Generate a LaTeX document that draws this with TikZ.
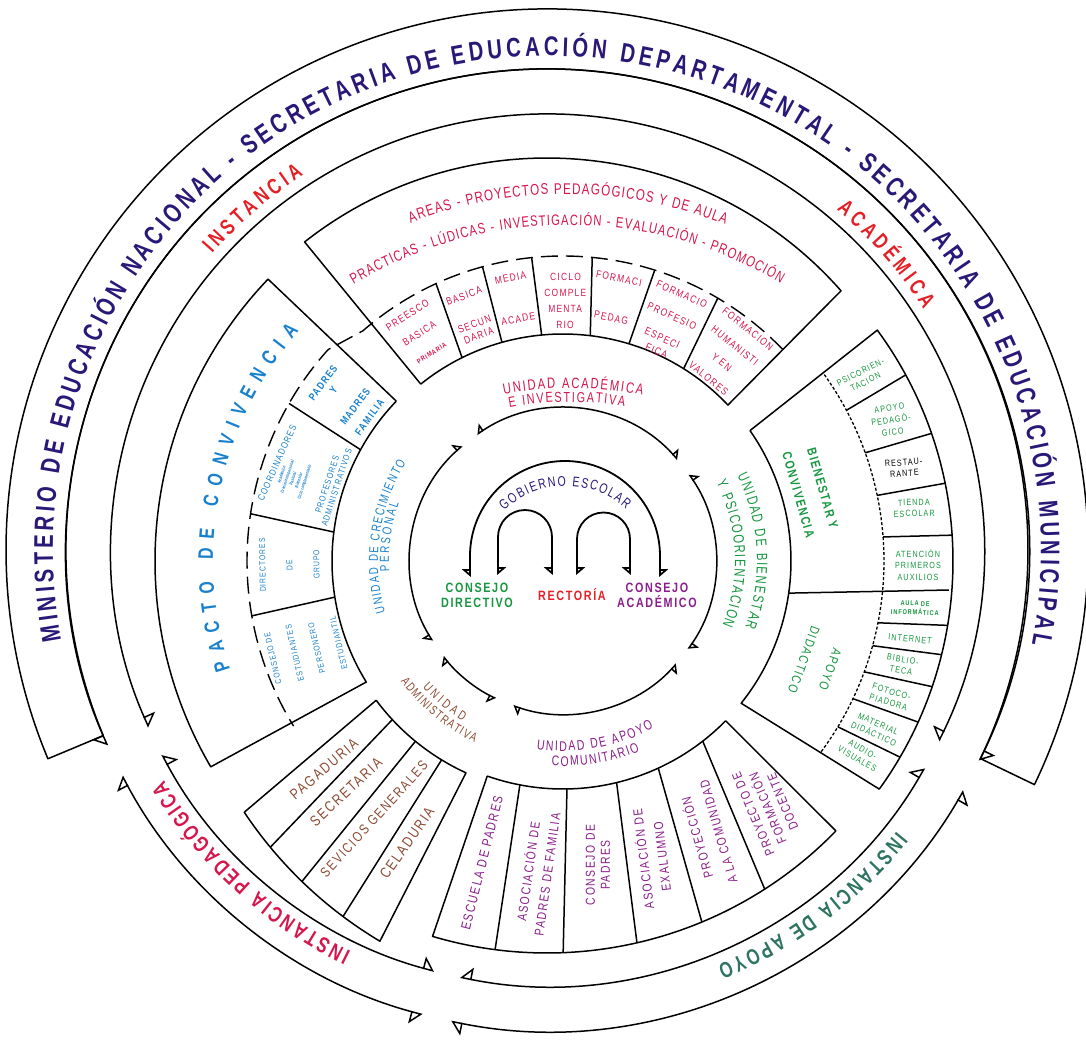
\documentclass[tikz,border=0pt]{standalone}
\usepackage{fontspec}
\setmainfont{Liberation Sans}
\newfontfamily\arcfont[FakeStretch=0.75]{Liberation Sans}
\newfontfamily\boxfont[FakeStretch=0.8,LetterSpace=12]{Liberation Sans}
\usetikzlibrary{calc,arrows.meta,decorations.text}

\definecolor{navy}{RGB}{42,24,120}
\definecolor{redi}{RGB}{228,32,38}
\definecolor{crimson}{RGB}{214,22,76}
\definecolor{bluec}{RGB}{24,128,204}
\definecolor{greenc}{RGB}{22,150,62}
\definecolor{purplec}{RGB}{138,30,138}
\definecolor{brownc}{RGB}{140,74,50}
\definecolor{tealc}{RGB}{46,116,96}

\begin{document}
\begin{tikzpicture}[x=1pt,y=1pt,line join=round]
    \tikzset{
        wall/.style={line width=1.5pt},
        dwall/.style={line width=1.4pt, dash pattern=on 17pt off 8pt},
        dotwall/.style={line width=1.3pt, dash pattern=on 3pt off 2pt},
        arctext/.style={decorate, decoration={text along path, text align={fit to path}, text={#1}}},
        lbl/.style 2 args={align=center, inner sep=0pt, font=\boxfont\fontsize{#1}{#2}\selectfont},
        lblb/.style 2 args={align=center, inner sep=0pt, font=\boxfont\bfseries\fontsize{#1}{#2}\selectfont},
        hbl/.tip={Triangle[open,harpoon,length=11pt,width=24pt]},
        hbr/.tip={Triangle[open,harpoon,swap,length=11pt,width=24pt]},
        sbl/.tip={Triangle[open,harpoon,length=7pt,width=16pt]},
        sbr/.tip={Triangle[open,harpoon,swap,length=7pt,width=16pt]},
    }
    \useasboundingbox (-563,-481) rectangle (523,561);
    \coordinate (C) at (0,0);
    \coordinate (O) at (-16,11);
    \coordinate (S) at (34,-16);

    % outer ring
    \draw[wall] ($(O)+(-25.7:541)$) arc[start angle=-25.7,end angle=202.7,radius=541]
        -- ($(O)+(202.7:481)$) arc[start angle=202.7,end angle=-25.7,radius=481] -- cycle;
    \path[arctext={|\arcfont\bfseries\fontsize{27}{27}\selectfont\color{navy}|MINISTERIO DE EDUCACIÓN NACIONAL - SECRETARIA DE EDUCACIÓN DEPARTAMENTAL - SECRETARIA DE EDUCACIÓN MUNICIPAL}]
        ($(O)+(190.5:494)$) arc[start angle=190.5,end angle=-11,radius=494];

    % instancias
    \foreach \s/\e in {-26/204, 208/255, 258.5/330} {
        \draw[wall,{hbr}-{hbl}] ($(O)+(\s:436)$) arc[start angle=\s,end angle=\e,radius=436];
        \draw[wall,{hbl}-{hbr}] ($(O)+(\s:481)$) arc[start angle=\s,end angle=\e,radius=481];
    }
    \path[arctext={|\arcfont\bfseries\fontsize{22}{22}\selectfont\color{redi}|INSTANCIA}]
        ($(O)+(138.5:447)$) arc[start angle=138.5,end angle=123,radius=447];
    \path[arctext={|\arcfont\bfseries\fontsize{22}{22}\selectfont\color{redi}|ACADÉMICA}]
        ($(O)+(49.6:447)$) arc[start angle=49.6,end angle=32.6,radius=447];
    \path[arctext={|\arcfont\bfseries\fontsize{22}{22}\selectfont\color{crimson}|INSTANCIA PEDAGÓGICA}]
        ($(O)+(244:447)$) arc[start angle=244,end angle=211,radius=447];
    \path[arctext={|\arcfont\bfseries\fontsize{22}{22}\selectfont\color{tealc}|INSTANCIA DE APOYO}]
        ($(O)+(-38.8:449)$) arc[start angle=-38.8,end angle=-67.7,radius=449];

    % unidad academica
    \draw[wall] (128.8:227) -- ($(O)+(128.2:392)$) arc[start angle=128.2,end angle=41.4,radius=392]
        -- (43.4:227) arc[start angle=43.4,end angle=128.8,radius=227];
    \foreach \a/\b in {116.4/114.6,105.6/105.3,95.4/95.9,83.1/84.5,73.1/72.5,57.9/59.5}
        \draw[wall] (\a:227) -- (\b:305);
    \draw[dwall] (44:305) arc[start angle=44,end angle=131,radius=305] -- (138:316)
        arc[start angle=138,end angle=211.5,radius=316];
    \path[arctext={|\arcfont\fontsize{15.5}{15.5}\selectfont\color{crimson}|AREAS - PROYECTOS PEDAGÓGICOS Y DE AULA}]
        ($(3,-63)+(111.2:430)$) arc[start angle=111.2,end angle=68.3,radius=430];
    \path[arctext={|\arcfont\fontsize{15}{15}\selectfont\color{crimson}|PRACTICAS - LÚDICAS - INVESTIGACIÓN - EVALUACIÓN - PROMOCIÓN}]
        ($(5,-80)+(121:416)$) arc[start angle=121,end angle=59.3,radius=416];
    \node[lbl={10.5}{22}, text=crimson, rotate=32.3] (presc) at (122.3:269) {PREESCO\\BASICA\\{\fontsize{7}{7}\selectfont\bfseries PRIMARIA}};
    \node[lbl={10.5}{12}, text=crimson, rotate=20.5] (secun) at (110.5:262) {BASICA\\[18pt]SECUN\\DARIA};
    \node[lbl={10.5}{12}, text=crimson, rotate=10.5] (media) at (100.5:267) {MEDIA\\[30pt]ACADE};
    \node[lbl={10.5}{16}, text=crimson, rotate=-0.5] (ciclo) at (89.5:260) {CICLO\\COMPLE\\MENTA\\RIO};
    \node[lbl={10.5}{12}, text=crimson, rotate=-11.2] (pedag) at (78.8:268) {FORMACI\\[28pt]PEDAG};
    \node[lbl={10.5}{14}, text=crimson, rotate=-24] (profe) at (66:261) {FORMACIO\\[10pt]PROFESIO\\[10pt]ESPECI\\FICA};
    \node[lbl={10.5}{21}, text=crimson, rotate=-38.6] (human) at (51.4:265) {FORMACION\\HUMANISTI\\Y EN\\VALORES};

    % pacto de convivencia
    \draw[wall] (136.2:231) -- (136.3:408) arc[start angle=136.3,end angle=210.3,radius=408]
        -- (211.6:231) arc[start angle=211.6,end angle=136.2,radius=231];
    \foreach \a/\b in {151.2/150.1,172.8/171.4,189/190}
        \draw[wall] (\a:231) -- (\b:316);
    \path[arctext={|\arcfont\bfseries\fontsize{21}{21}\selectfont\color{bluec}|PACTO DE CONVIVENCIA}]
        (198:350) arc[start angle=198,end angle=139,radius=350];
    \node[lblb={10.5}{15}, text=bluec, rotate=53.4] (padres) at (143.4:270) {PADRES\\[-2pt]Y\\[12pt]MADRES\\[3pt]FAMILIA};
    \node[lbl={9.5}{11}, text=bluec, rotate=66] (coord) at (-286,98) {COORDINADORES};
    \node[lbl={4.5}{6}, text=bluec, rotate=72, font=\arcfont\bfseries\fontsize{4.5}{6}\selectfont] (coordx) at (163:282)
        {Académico\\Crecimiento personal\\Pastoral\\Bienestar\\Ciclo complementario};
    \node[lbl={9}{10}, text=bluec, rotate=72] (profa) at (162:243) {PROFESORES\\ADMINISTRATIVOS};
    \node[lbl={8.5}{27}, text=bluec, rotate=90.8] (direc) at (180.8:273.5) {DIRECTORES\\DE\\GRUPO};
    \node[lbl={8.5}{22.5}, text=bluec, rotate=103] (conse) at (199.2:272.5) {CONSEJO DE\\ESTUDIANTES\\PERSONERO\\ESTUDIANTIL};

    % bienestar
    \draw[wall] (34.9:228) -- (36.3:390) arc[start angle=36.3,end angle=-35.8,radius=390]
        -- (-38.6:228) arc[start angle=-38.6,end angle=34.9,radius=228];
    \draw[dotwall] (35.5:321) arc[start angle=35.5,end angle=-36.5,radius=321];
    \foreach \a/\b in {28/28.5,19.7/19.1,11.8/11.5,4.3/3.8,-11.1/-9.5,-15.3/-13.9,-20.2/-18.8,-25.4/-24.4,-31.1/-30.2}
        \draw[wall] (\a:321) -- (\b:390);
    \draw[wall] (-8.1:228) -- (-4.3:387);
    \node[lblb={13}{25}, text=greenc, rotate=-74] (bienc) at (247.5,69.5) {BIENESTAR Y\\CONVIVENCIA};
    \node[lbl={13}{28}, text=greenc, rotate=-110] (apoyd) at (254,-103.5) {APOYO\\DIDACTICO};
    \node[lbl={9}{11}, text=greenc, rotate=27] (psico) at (300,184) {PSICORIEN-\\TACION};
    \node[lbl={9}{12}, text=greenc, rotate=8] (apoyp) at (328,141) {APOYO\\PEDAGÓ-\\GICO};
    \node[lbl={9}{11}, rotate=4] (resta) at (341,93) {RESTAU-\\RANTE};
    \node[lbl={9}{11}, text=greenc, rotate=2] (tiend) at (351,53) {TIENDA\\ESCOLAR};
    \node[lbl={9}{11.5}, text=greenc] (auxil) at (355,-4) {ATENCIÓN\\PRIMEROS\\AUXILIOS};
    \node[lblb={7}{9}, text=greenc, rotate=-2] (aula) at (352,-47) {AULA DE\\INFORMÁTICA};
    \node[lbl={9}{11}, text=greenc, rotate=-6] (inter) at (347,-78) {INTERNET};
    \node[lbl={9}{11}, text=greenc, rotate=-10] (bibli) at (339,-104) {BIBLIO-\\TECA};
    \node[lbl={9}{11}, text=greenc, rotate=-17] (fotoc) at (327,-136) {FOTOCO-\\PIADORA};
    \node[lbl={9}{11}, text=greenc, rotate=-24] (mater) at (313,-168) {MATERIAL\\DIDÁCTICO};
    \node[lbl={9}{11}, text=greenc, rotate=-30] (audio) at (297,-193) {AUDIO-\\VISUALES};

    % apoyo comunitario
    \draw[wall] (250.6:228) -- ($(O)+(253.5:403)$) arc[start angle=253.5,end angle=315.8,radius=403]
        -- (315.5:228) arc[start angle=315.5,end angle=250.6,radius=228];
    \foreach \a/\b in {259.1/262.6,271/272.3,283.6/282.9,294.7/292.6,307.8/302.7}
        \draw[wall] (\a:228) -- ($(O)+(\b:403)$);
    \node[lbl={13.5}{15}, text=purplec, rotate=76] (escue) at (-81,-302) {ESCUELA DE PADRES};
    \node[lbl={13}{19}, text=purplec, rotate=82] (asocp) at (-26,-312) {ASOCIACIÓN DE\\PADRES DE FAMILIA};
    \node[lbl={13}{15}, text=purplec, rotate=90] (consp) at (35,-304) {CONSEJO DE\\PADRES};
    \node[lbl={13}{19}, text=purplec, rotate=97] (asoce) at (89,-297) {ASOCIACIÓN DE\\EXALUMNO};
    \node[lbl={13}{22}, text=purplec, rotate=106] (proyc) at (144,-274) {PROYECCIÓN\\A LA COMUNIDAD};
    \node[lbl={13}{16}, text=purplec, rotate=113] (proyf) at (205,-247) {PROYECTO DE\\FORMACIÓN\\DOCENTE};

    % administrativa
    \draw[wall] (216.7:233) -- ($(S)+(213.7:424)$) arc[start angle=213.7,end angle=239.2,radius=424]
        -- (245.4:233) arc[start angle=245.4,end angle=216.7,radius=233];
    \foreach \a/\b in {222.9/219.6,230.7/225.9,238.6/233.2}
        \draw[wall] (\a:233) -- ($(S)+(\b:424)$);
    \node[lbl={15}{16}, text=brownc, rotate=40.6] (pagad) at (-239,-208) {PAGADURIA};
    \node[lbl={15}{16}, text=brownc, rotate=43] (secre) at (-217,-231) {SECRETARIA};
    \node[lbl={14}{16}, text=brownc, rotate=47.5] (servi) at (-189,-258) {SEVICIOS GENERALES};
    \node[lbl={15}{16}, text=brownc, rotate=55] (celad) at (-156,-282) {CELADURIA};

    % unidades
    \path[arctext={|\arcfont\fontsize{15}{15}\selectfont\color{crimson}|UNIDAD  ACADÉMICA}]
        ($(7,-190)+(100.5:363)$) arc[start angle=100.5,end angle=78.5,radius=363];
    \path[arctext={|\arcfont\fontsize{14.5}{14.5}\selectfont\color{crimson}|E INVESTIGATIVA}]
        ($(7,-190)+(100:349)$) arc[start angle=100,end angle=81,radius=349];
    \path[arctext={|\arcfont\fontsize{15}{15}\selectfont\color{greenc}|UNIDAD DE BIENESTAR}]
        (26:194) arc[start angle=26,end angle=-20,radius=194];
    \path[arctext={|\arcfont\fontsize{15}{15}\selectfont\color{greenc}|Y PSICOORIENTACION}]
        (27:172) arc[start angle=27,end angle=-22,radius=172];
    \path[arctext={|\arcfont\fontsize{13}{13}\selectfont\color{bluec}|UNIDAD DE CRECIMIENTO}]
        (196:185) arc[start angle=196,end angle=148,radius=185];
    \path[arctext={|\arcfont\fontsize{13}{13}\selectfont\color{bluec}|PERSONAL}]
        (183.5:174) arc[start angle=183.5,end angle=160.5,radius=174];
    \path[arctext={|\arcfont\fontsize{13}{13}\selectfont\color{brownc}|UNIDAD}]
        (222:189) arc[start angle=222,end angle=238,radius=189];
    \path[arctext={|\arcfont\fontsize{12.5}{12.5}\selectfont\color{brownc}|ADMINISTRATIVA}]
        (216.5:202) arc[start angle=216.5,end angle=244,radius=202];
    \path[arctext={|\arcfont\fontsize{14}{14}\selectfont\color{purplec}|UNIDAD DE APOYO}]
        (262:190) arc[start angle=262,end angle=298.5,radius=190];
    \path[arctext={|\arcfont\fontsize{14}{14}\selectfont\color{purplec}|COMUNITARIO}]
        (266.8:205) arc[start angle=266.8,end angle=292,radius=205];

    % gobierno escolar
    \foreach \s/\e in {41.5/124.2,131.2/211.5,218.5/244,251/317.8,324.8/394.5}
        \draw[wall,{sbl}-{sbr}] (\s:153) arc[start angle=\s,end angle=\e,radius=153];
    \draw[line width=1.8pt,{sbr}-{sbl}] (-93,-16) -- (-93,5) arc[start angle=180,end angle=0,radius=95] -- (97,-16);
    \draw[line width=1.8pt,{sbl}-{sbr}] (-65,-14) -- (-65,24) arc[start angle=180,end angle=0,radius=27] -- (-11,-14);
    \draw[line width=1.8pt,{sbl}-{sbr}] (14,-14) -- (14,22) arc[start angle=180,end angle=0,radius=26.5] -- (67,-14);
    \path[arctext={|\arcfont\fontsize{14}{14}\selectfont\color{navy}|GOBIERNO ESCOLAR}]
        ($(3,-15)+(133.3:90)$) arc[start angle=133.3,end angle=48,radius=90];
    \node[lblb={13.5}{15}, text=greenc] (cdir) at (-86,-34.5) {CONSEJO\\DIRECTIVO};
    \node[lblb={13.5}{15}, text=redi] (rect) at (9,-34) {RECTORÍA};
    \node[lblb={13.5}{15}, text=purplec] (cacad) at (94,-34.5) {CONSEJO\\ACADÉMICO};
\end{tikzpicture}
\end{document}
